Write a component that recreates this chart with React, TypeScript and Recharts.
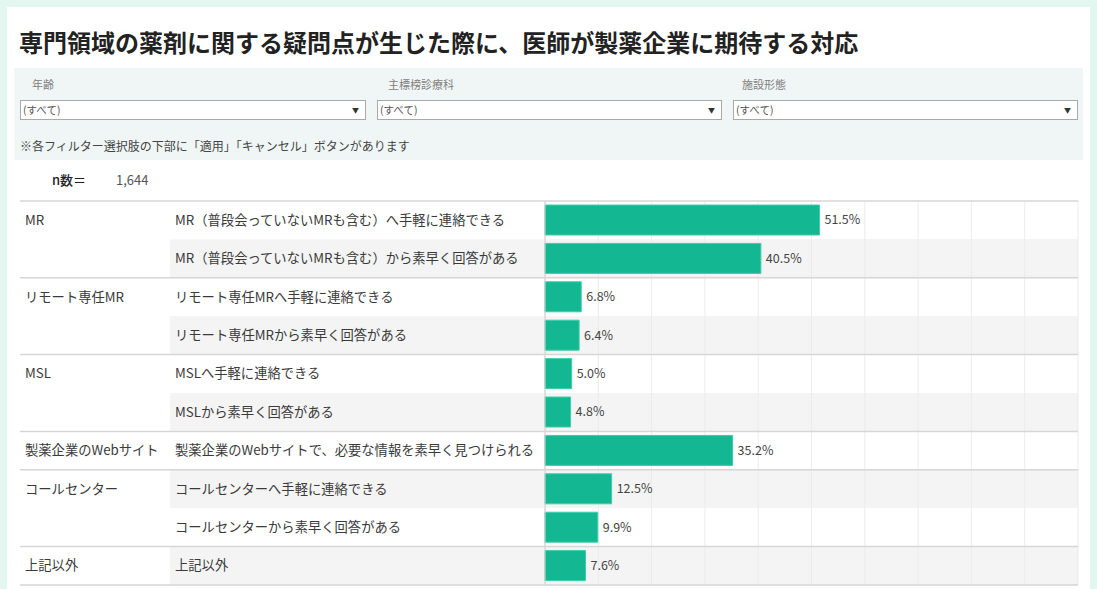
import { BarChart, Bar, XAxis, YAxis, CartesianGrid, LabelList } from "recharts";

const GROUPS = ["MR", "リモート専任MR", "MSL", "製薬企業のWebサイト", "コールセンター", "上記以外"];
const ROW_GROUP = [0, 0, 1, 1, 2, 2, 3, 4, 4, 5];
const ITEMS = [
  "MR（普段会っていないMRも含む）へ手軽に連絡できる",
  "MR（普段会っていないMRも含む）から素早く回答がある",
  "リモート専任MRへ手軽に連絡できる",
  "リモート専任MRから素早く回答がある",
  "MSLへ手軽に連絡できる",
  "MSLから素早く回答がある",
  "製薬企業のWebサイトで、必要な情報を素早く見つけられる",
  "コールセンターへ手軽に連絡できる",
  "コールセンターから素早く回答がある",
  "上記以外",
];
const RATES = [51.5, 40.5, 6.8, 6.4, 5.0, 4.8, 35.2, 12.5, 9.9, 7.6];
const GRID_TICKS = [0, 10, 20, 30, 40, 50, 60, 70, 80, 90, 100];

const FILTERS = ["年齢", "主標榜診療科", "施設形態"];
const N_TOTAL = "1,644";

const data = ITEMS.map((item, i) => ({ item, rate: RATES[i] }));

const FONT = "'Noto Sans CJK JP', 'Noto Sans', sans-serif";
const W = 1097;
const H = 589;
const MARGIN = { top: 201, right: 19, bottom: 4, left: 20 };
const LABEL_W = 525;
const PLOT_LEFT = MARGIN.left + LABEL_W;
const PLOT_RIGHT = W - MARGIN.right;
const ROW_H = (H - MARGIN.top - MARGIN.bottom) / ITEMS.length;

function RowTick(props: any) {
  const { y, payload } = props;
  const i = ITEMS.indexOf(payload.value);
  if (i < 0) return null;
  const top = y - ROW_H / 2;
  const g = ROW_GROUP[i];
  const groupStart = i === 0 || ROW_GROUP[i - 1] !== g;
  return (
    <g>
      {i % 2 === 1 && (
        <rect x={170} y={top} width={PLOT_LEFT - 171} height={ROW_H} fill="#f4f4f4" />
      )}
      {groupStart && (
        <text x={25} y={y} dy="0.35em" fontSize={13.3} fill="#3a3a3a" fontFamily={FONT}>
          {GROUPS[g]}
        </text>
      )}
      <text x={175} y={y} dy="0.35em" fontSize={13.3} fill="#3a3a3a" fontFamily={FONT}>
        {ITEMS[i]}
      </text>
      {groupStart && (
        <line x1={MARGIN.left} x2={PLOT_RIGHT} y1={top} y2={top} stroke="#d6d6d6" strokeWidth={1.5} />
      )}
      {i === ITEMS.length - 1 && (
        <line
          x1={MARGIN.left}
          x2={PLOT_RIGHT}
          y1={top + ROW_H}
          y2={top + ROW_H}
          stroke="#d6d6d6"
          strokeWidth={1.5}
        />
      )}
    </g>
  );
}

function Dropdown({ left, width }: { left: number; width: number }) {
  return (
    <div
      style={{
        position: "absolute",
        left,
        top: 100,
        width,
        height: 20,
        boxSizing: "border-box",
        border: "1px solid #a9a9a9",
        background: "#fff",
        fontSize: 10.5,
        color: "#555",
        lineHeight: "18px",
        paddingLeft: 2,
      }}
    >
      (すべて)
      <span style={{ position: "absolute", right: 6, top: 0, fontSize: 7, color: "#333" }}>▼</span>
    </div>
  );
}

export default function App() {
  return (
    <div
      style={{
        position: "relative",
        width: W,
        height: H,
        background: "#e4f6f0",
        overflow: "hidden",
        fontFamily: FONT,
      }}
    >
      <style>{"body{margin:0}"}</style>
      <div style={{ position: "absolute", left: 7, top: 7, width: 1083, height: 600, background: "#fff" }} />
      <div
        style={{
          position: "absolute",
          left: 19,
          top: 27,
          fontSize: 24,
          fontWeight: 700,
          color: "#222",
          whiteSpace: "nowrap",
          lineHeight: "30px",
        }}
      >
        専門領域の薬剤に関する疑問点が生じた際に、医師が製薬企業に期待する対応
      </div>
      <div style={{ position: "absolute", left: 14, top: 68, width: 1069, height: 92, background: "#f0f6f5" }} />
      {FILTERS.map((f, i) => (
        <div
          key={f}
          style={{ position: "absolute", left: [32, 388, 742][i], top: 76, fontSize: 11, color: "#808080", lineHeight: "16px" }}
        >
          {f}
        </div>
      ))}
      <Dropdown left={20} width={346} />
      <Dropdown left={377} width={345} />
      <Dropdown left={733} width={345} />
      <div style={{ position: "absolute", left: 20, top: 138, fontSize: 12, color: "#444", lineHeight: "16px", whiteSpace: "nowrap" }}>
        ※各フィルター選択肢の下部に「適用」「キャンセル」ボタンがあります
      </div>
      <div style={{ position: "absolute", left: 52, top: 171, fontSize: 13, color: "#222", fontWeight: 500, lineHeight: "18px" }}>
        n数＝
      </div>
      <div style={{ position: "absolute", left: 116, top: 171, fontSize: 13, color: "#555", lineHeight: "18px" }}>
        {N_TOTAL}
      </div>
      <div style={{ position: "absolute", left: 0, top: 0 }}>
        <BarChart width={W} height={H} data={data} layout="vertical" margin={MARGIN}>
          <CartesianGrid
            stroke="#ececec"
            horizontal={(p: any) => <g key={p.key} />}
            horizontalFill={["#ffffff", "#f4f4f4"]}
            horizontalCoordinatesGenerator={({ offset }: any) =>
              ITEMS.map((_, i) => offset.top + (i * offset.height) / ITEMS.length).concat([offset.top + offset.height])
            }
          />
          <XAxis type="number" domain={[0, 100]} ticks={GRID_TICKS} hide />
          <YAxis
            type="category"
            dataKey="item"
            width={LABEL_W}
            interval={0}
            tickLine={false}
            axisLine={{ stroke: "#cccccc" }}
            tick={<RowTick />}
          />
          <Bar dataKey="rate" fill="#13b893" stroke="#3fcca8" strokeWidth={1} barSize={30} isAnimationActive={false}>
            <LabelList
              dataKey="rate"
              position="right"
              offset={5}
              formatter={(v: any) => `${Number(v).toFixed(1)}%`}
              style={{ fontSize: 12.5, fill: "#444", fontFamily: FONT }}
            />
          </Bar>
        </BarChart>
      </div>
    </div>
  );
}
